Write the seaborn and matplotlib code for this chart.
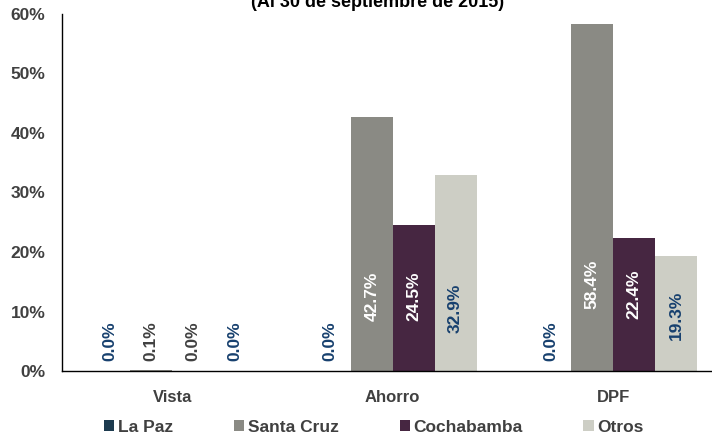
import pandas as pd
import matplotlib
matplotlib.use("Agg")
import matplotlib.pyplot as plt
import seaborn as sns

# Datos
categorias = ["Vista", "Ahorro", "DPF"]
regiones = ["La Paz", "Santa Cruz", "Cochabamba", "Otros"]
la_paz = [0.0, 0.0, 0.0]
santa_cruz = [0.1, 42.7, 58.4]
cochabamba = [0.0, 24.5, 22.4]
otros = [0.0, 32.9, 19.3]
titulo = "(Al 30 de septiembre de 2015)"

# altura (en %) donde va cada etiqueta, por region y categoria
pos_etiqueta = {
    "La Paz": [5.0, 5.0, 5.0],
    "Santa Cruz": [5.0, 12.5, 14.5],
    "Cochabamba": [5.0, 12.6, 12.9],
    "Otros": [5.0, 10.5, 9.3],
}

valores = {"La Paz": la_paz, "Santa Cruz": santa_cruz,
           "Cochabamba": cochabamba, "Otros": otros}
filas = []
for r in regiones:
    for c, v in zip(categorias, valores[r]):
        filas.append({"Categoria": c, "Region": r, "Valor": v})
df = pd.DataFrame(filas)

colores = ["#1D3B4F", "#8A8A84", "#462641", "#CDCEC5"]
azul = "#17406E"
gris = "#404040"
color_etq = {"La Paz": azul, "Santa Cruz": "white", "Cochabamba": "white", "Otros": azul}

sns.set_style("white")
plt.rcParams["font.family"] = ["Liberation Sans", "DejaVu Sans"]

fig = plt.figure(figsize=(7.12, 4.36), dpi=100)
ax = fig.add_axes([62 / 712, 65 / 436, 661.5 / 712, 357 / 436])

sns.barplot(data=df, x="Categoria", y="Valor", hue="Region", hue_order=regiones,
            order=categorias, palette=colores, width=0.76, linewidth=0,
            saturation=1, ax=ax)

# etiquetas de valores
for r, cont in zip(regiones, ax.containers):
    for i, bar in enumerate(cont):
        v = valores[r][i]
        col = color_etq[r]
        if col == "white" and v < 1:
            col = gris
        ax.text(bar.get_x() + bar.get_width() / 2, pos_etiqueta[r][i], f"{v:.1f}%",
                rotation=90, ha="center", va="center", fontsize=12.5,
                fontweight="bold", color=col)

ax.set_ylim(0, 60)
ax.set_xlim(-0.5, 2.5)
ax.set_yticks(range(0, 61, 10))
ax.set_yticklabels([f"{t}%" for t in range(0, 61, 10)])
ax.set_xlabel("")
ax.set_ylabel("")
ax.set_xticks([-0.5, 0.5, 1.5], minor=True)
ax.tick_params(axis="x", which="major", length=0, pad=14, labelsize=12, labelcolor=gris)
ax.tick_params(axis="x", which="minor", length=5, color="#A0A0A0", direction="out")
ax.tick_params(axis="y", length=5, color="#A0A0A0", direction="out", pad=7,
               labelsize=12.5, labelcolor=gris)
for lab in ax.get_xticklabels() + ax.get_yticklabels():
    lab.set_fontweight("bold")

for s in ["top", "right"]:
    ax.spines[s].set_visible(False)
for s in ["left", "bottom"]:
    ax.spines[s].set_color("black")
    ax.spines[s].set_linewidth(1)

handles, labels = ax.get_legend_handles_labels()
ax.get_legend().remove()
fig.legend(handles, labels, loc="center", bbox_to_anchor=(374 / 712, 1 - 427 / 436),
           ncol=4, frameon=False, handlelength=0.58, handleheight=0.58,
           handletextpad=0.22, columnspacing=3.5,
           prop={"weight": "bold", "size": 12.5}, labelcolor=gris)

fig.text(378 / 712, 1 - 7 / 436, titulo, ha="center", va="baseline",
         fontsize=13, fontweight="bold", color="black")

fig.savefig("out.png", dpi=100)
